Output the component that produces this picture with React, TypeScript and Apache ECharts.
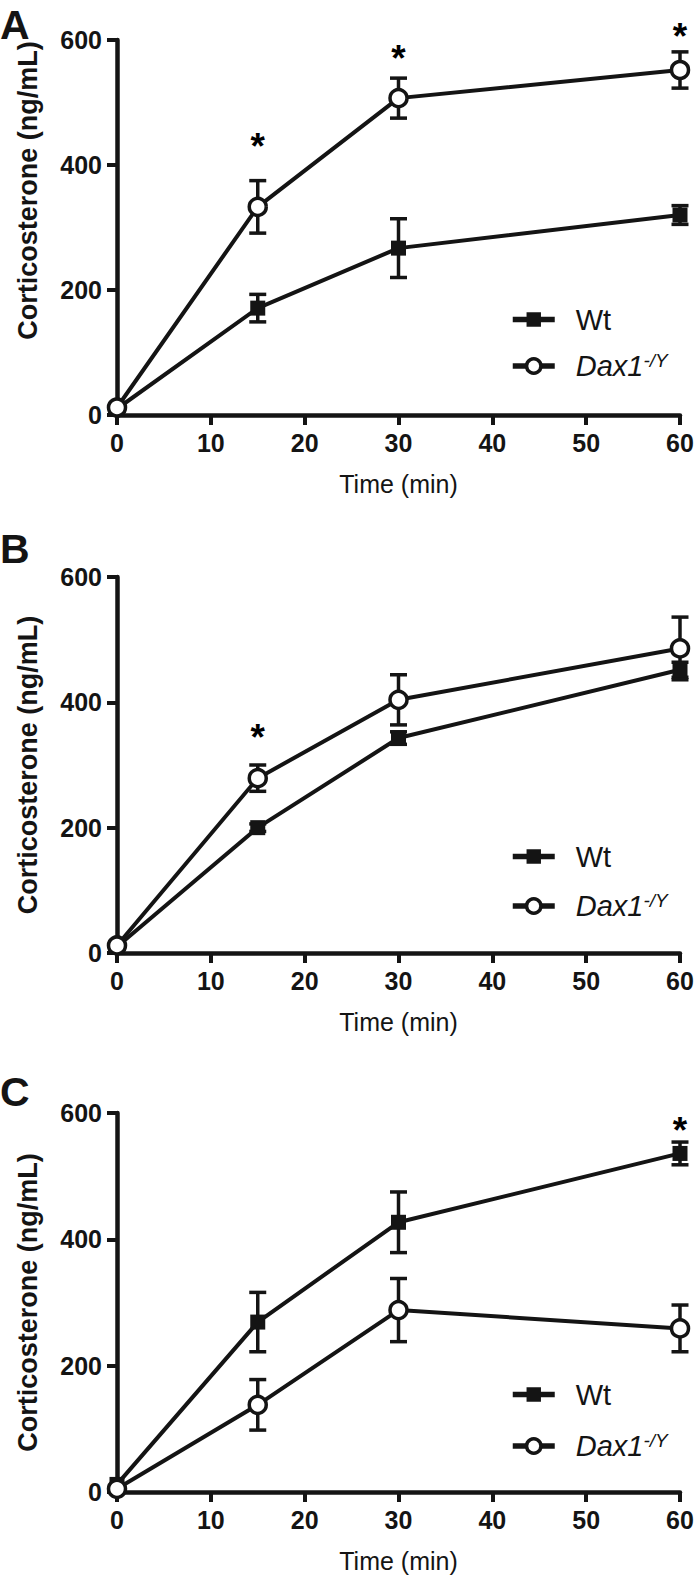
import React, { useEffect, useRef } from "react";
import * as echarts from "echarts";

// ---- data ----
const times = [0, 15, 30, 60];
const panelLetters = ["A", "B", "C"];

const wtA = [10, 171, 267, 320];
const wtErrA = [0, 22, 47, 15];
const daxA = [12, 333, 507, 552];
const daxErrA = [0, 42, 32, 29];
const starsA = [[15, 443], [30, 584], [60, 619]];

const wtB = [10, 200, 343, 452];
const wtErrB = [0, 6, 10, 12];
const daxB = [12, 279, 404, 486];
const daxErrB = [0, 21, 40, 50];
const starsB = [[15, 356]];

const wtC = [12, 269, 427, 536];
const wtErrC = [0, 47, 48, 18];
const daxC = [5, 138, 288, 259];
const daxErrC = [0, 40, 50, 37];
const starsC = [[60, 585]];

const xMin = 0, xMax = 60, xStep = 10;
const yMin = 0, yMax = 600, yStep = 200;
const xTitle = "Time (min)";
const yTitle = "Corticosterone (ng/mL)";

// ---- layout ----
const INK = "#141414";
const FONT = "'Liberation Sans', Arial, Helvetica, sans-serif";
const gridTops = [40, 577, 1113];
const gridHeights = [375, 376, 379];
const legendTops = [300, 837, 1375];
const legendGaps = [17, 20, 22];
const letterTops = [4, 528, 1071];

const panels = [
  { wt: wtA, wtErr: wtErrA, dax: daxA, daxErr: daxErrA, stars: starsA },
  { wt: wtB, wtErr: wtErrB, dax: daxB, daxErr: daxErrB, stars: starsB },
  { wt: wtC, wtErr: wtErrC, dax: daxC, daxErr: daxErrC, stars: starsC },
];

function errData(vals: number[], errs: number[]) {
  const out: number[][] = [];
  times.forEach((t, i) => {
    if (errs[i] > 0) out.push([t, vals[i] - errs[i], vals[i] + errs[i]]);
  });
  return out;
}

const errRender = (params: any, api: any) => {
  const x = api.value(0);
  const lo = api.coord([x, api.value(1)]);
  const hi = api.coord([x, api.value(2)]);
  const w = 8.5;
  const style = { stroke: INK, lineWidth: 3.5 };
  return {
    type: "group",
    children: [
      { type: "line", shape: { x1: lo[0], y1: lo[1], x2: hi[0], y2: hi[1] }, style },
      { type: "line", shape: { x1: hi[0] - w, y1: hi[1], x2: hi[0] + w, y2: hi[1] }, style },
      { type: "line", shape: { x1: lo[0] - w, y1: lo[1], x2: lo[0] + w, y2: lo[1] }, style },
    ],
  };
};

function buildOption() {
  const grid: any[] = [];
  const xAxis: any[] = [];
  const yAxis: any[] = [];
  const series: any[] = [];
  const legend: any[] = [];
  const graphic: any[] = [];

  panels.forEach((p, i) => {
    grid.push({ left: 117, width: 563, top: gridTops[i], height: gridHeights[i] });
    xAxis.push({
      gridIndex: i,
      type: "value",
      min: xMin,
      max: xMax,
      interval: xStep,
      name: xTitle,
      nameLocation: "middle",
      nameGap: 56,
      nameTextStyle: { fontSize: 25, fontFamily: FONT, color: INK },
      axisLine: { show: true, onZero: false, lineStyle: { color: INK, width: 4.5, cap: "round" } },
      axisTick: { show: true, length: 10, lineStyle: { color: INK, width: 4 } },
      axisLabel: { fontSize: 25, fontWeight: "bold", fontFamily: FONT, color: INK, margin: 15 },
      splitLine: { show: false },
    });
    yAxis.push({
      gridIndex: i,
      type: "value",
      min: yMin,
      max: yMax,
      interval: yStep,
      name: yTitle,
      nameLocation: "middle",
      nameRotate: 90,
      nameGap: 76,
      nameTextStyle: {
        fontSize: 27,
        fontWeight: "bold",
        fontFamily: FONT,
        color: INK,
        padding: i === 0 ? [0, 0, 0, 74] : 0,
      },
      axisLine: { show: true, onZero: false, lineStyle: { color: INK, width: 4.5, cap: "round" } },
      axisTick: { show: true, length: 10, lineStyle: { color: INK, width: 4 } },
      axisLabel: { fontSize: 25, fontWeight: "bold", fontFamily: FONT, color: INK, margin: 15 },
      splitLine: { show: false },
    });

    series.push({
      type: "custom",
      name: "errWt" + i,
      xAxisIndex: i,
      yAxisIndex: i,
      renderItem: errRender,
      data: errData(p.wt, p.wtErr),
      z: 1,
      silent: true,
    });
    series.push({
      type: "custom",
      name: "errDax" + i,
      xAxisIndex: i,
      yAxisIndex: i,
      renderItem: errRender,
      data: errData(p.dax, p.daxErr),
      z: 1,
      silent: true,
    });
    series.push({
      type: "line",
      name: "Wt",
      xAxisIndex: i,
      yAxisIndex: i,
      data: times.map((t, j) => [t, p.wt[j]]),
      symbol: "rect",
      symbolSize: 15,
      itemStyle: { color: INK },
      lineStyle: { color: INK, width: 4 },
      z: 3,
    });
    series.push({
      type: "line",
      name: "Dax",
      xAxisIndex: i,
      yAxisIndex: i,
      data: times.map((t, j) => [t, p.dax[j]]),
      symbol: "circle",
      symbolSize: 17,
      showAllSymbol: true,
      itemStyle: { color: "#ffffff", borderColor: INK, borderWidth: 3.5 },
      lineStyle: { color: INK, width: 4 },
      z: 4,
    });
    series.push({
      type: "scatter",
      name: "stars" + i,
      xAxisIndex: i,
      yAxisIndex: i,
      data: p.stars,
      symbolSize: 1,
      clip: false,
      silent: true,
      itemStyle: { color: INK, opacity: 0 },
      label: {
        show: true,
        position: "inside",
        formatter: "*",
        fontSize: 37,
        fontWeight: "bold",
        fontFamily: FONT,
        color: "#000000",
        opacity: 1,
        textBorderWidth: 0,
        offset: [0, 8],
      },
      z: 5,
    });

    legend.push({
      data: ["Wt", "Dax"],
      orient: "vertical",
      left: 505,
      top: legendTops[i],
      itemWidth: 42,
      itemHeight: 18,
      itemGap: legendGaps[i],
      selectedMode: false,
      lineStyle: { color: INK, width: 5.5 },
      itemStyle: { borderWidth: 3.5 },
      formatter: (name: string) => (name === "Wt" ? "{w|Wt}" : "{d|Dax1}{s|-/Y}"),
      textStyle: {
        color: INK,
        fontFamily: FONT,
        fontSize: 29,
        rich: {
          w: { fontSize: 29, fontFamily: FONT, color: INK, padding: [0, 0, 0, 16], lineHeight: 30 },
          d: { fontSize: 29, fontFamily: FONT, color: INK, fontStyle: "italic", padding: [0, 0, 0, 16], lineHeight: 30 },
          s: { fontSize: 19, fontFamily: FONT, color: INK, fontStyle: "italic", verticalAlign: "top", lineHeight: 18 },
        },
      },
    });

    graphic.push({
      type: "text",
      left: 0,
      top: letterTops[i],
      style: { text: panelLetters[i], fontSize: 41, fontWeight: "bold", fontFamily: FONT, fill: INK },
    });
  });

  return {
    animation: false,
    backgroundColor: "#ffffff",
    grid,
    xAxis,
    yAxis,
    series,
    legend,
    graphic,
  };
}

export default function App() {
  const ref = useRef<HTMLDivElement>(null);
  useEffect(() => {
    if (!ref.current) return;
    const chart = echarts.init(ref.current, undefined, { renderer: "svg" });
    chart.setOption(buildOption() as any);
    return () => chart.dispose();
  }, []);
  return (
    <div
      ref={ref}
      style={{ position: "absolute", left: 0, top: 0, width: 700, height: 1579, background: "#fff" }}
    />
  );
}
